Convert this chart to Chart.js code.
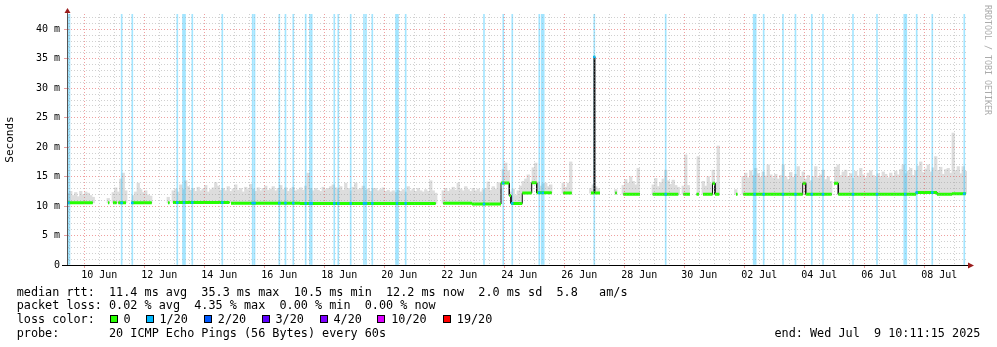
<!DOCTYPE html>
<html>
<head>
<meta charset="utf-8">
<script src="https://cdn.jsdelivr.net/npm/chart.js@4.4.1/dist/chart.umd.min.js"></script>
<style>
  html, body { margin: 0; padding: 0; background: #fff; }
  #wrap { position: relative; width: 997px; height: 347px; overflow: hidden; }
  #graph { position: absolute; left: 0; top: 0; }
  .leg { position: absolute; font: 11.8px "DejaVu Sans Mono", monospace; line-height: 14px; color: #000; white-space: pre; }
  .box { position: absolute; top: 315px; width: 8px; height: 8px; box-sizing: border-box; border: 1px solid #000; }
</style>
</head>
<body>
<div id="wrap">
  <canvas id="graph" width="997" height="347"></canvas>

  <div class="leg" style="left:16.7px;top:284.6px">median rtt:  11.4 ms avg  35.3 ms max  10.5 ms min  12.2 ms now  2.0 ms sd  5.8   am/s</div>
  <div class="leg" style="left:16.7px;top:298.4px">packet loss: 0.02 % avg  4.35 % max  0.00 % min  0.00 % now</div>
  <div class="leg" style="left:16.7px;top:312.2px">loss color:</div>
  <div id="lossKey"></div>
  <div class="leg" style="left:16.7px;top:326px">probe:       20 ICMP Echo Pings (56 Bytes) every 60s</div>
  <div class="leg" style="left:774.5px;top:326px">end: Wed Jul  9 10:11:15 2025</div>
</div>

<script>
// time axis is "day of June" (Jul 1 = 31); 30 days ending Wed Jul 9 10:11:15
const T_END = 39 + (10 + 11.25 / 60) / 24;
const T_START = T_END - 30;
const SLOT = 2 / 24;          // smoke is sampled in 2 h slots
const Y_MAX = 42.6;           // ms

const xTickLabels = ['10 Jun', '12 Jun', '14 Jun', '16 Jun', '18 Jun', '20 Jun', '22 Jun', '24 Jun',
  '26 Jun', '28 Jun', '30 Jun', '02 Jul', '04 Jul', '06 Jul', '08 Jul'];
const yTickLabels = ['0', '5 m', '10 m', '15 m', '20 m', '25 m', '30 m', '35 m', '40 m'];

const lossNames = ['0', '1/20', '2/20', '3/20', '4/20', '10/20', '19/20'];
const lossColors = ['#26ff00', '#00b8ff', '#0059ff', '#5e00ff', '#7e00ff', '#dd00ff', '#ff0000'];

// median rtt: [from, to, ms]
const medianSegs = [
  [9.425, 10.281, 10.55], [10.791, 10.834, 10.55], [10.958, 11.081, 10.55], [11.134, 11.391, 10.55],
  [11.581, 12.248, 10.55], [12.791, 12.841, 10.55], [12.958, 14.841, 10.6], [14.891, 17.191, 10.5],
  [17.191, 21.714, 10.45], [21.968, 22.924, 10.47], [22.924, 23.891, 10.35], [23.891, 24.168, 13.9],
  [24.168, 24.224, 11.8], [24.224, 24.601, 10.45], [24.601, 24.914, 12.2], [24.914, 25.081, 13.95],
  [25.081, 25.581, 12.25], [25.968, 26.248, 12.2], [26.891, 26.991, 12.2], [26.991, 27.014, 35.3],
  [27.014, 27.191, 12.2], [27.701, 27.748, 12.2], [27.968, 28.524, 12.0], [28.948, 29.801, 12.0],
  [29.968, 30.191, 12.0], [30.408, 30.491, 12.0], [30.624, 30.941, 12.0], [30.941, 31.024, 13.87],
  [31.024, 31.168, 12.0], [31.724, 31.774, 12.0], [31.968, 33.948, 12.0], [33.948, 34.048, 13.87],
  [34.048, 34.914, 12.0], [34.991, 35.134, 13.87], [35.134, 37.724, 12.0], [37.724, 38.424, 12.3],
  [38.424, 38.924, 12.0], [38.924, 39.391, 12.1]
];

// top of the ping smoke (ms), per 2 h slot counted from the start of the graph
const smokeSegs = [
  [0, [12.2, 12.5, 11.8, 12.3, 11.6, 12.5, 11.9, 12.4, 12.2, 11.8, 11.5]],
  [16, [11.3]],
  [18, [12.3, 13.1, 12.4, 14.6, 15.6, 12.6]],
  [26, [11.8, 12.4, 13.9, 12.8, 12.3, 12.6, 11.9, 11.7]],
  [40, [11.5]],
  [42, [12.6, 12.9, 12.4, 13.6, 12.8, 14.3, 13.3, 12.7, 13.0, 12.5,
        13.2, 12.6, 12.9, 13.5, 12.4, 12.8, 13.1, 14.0, 13.4, 12.7,
        13.0, 12.6, 13.3, 12.5, 12.9, 13.6, 12.7, 13.0, 12.4, 13.2,
        12.8, 13.7, 12.9, 12.5, 13.1, 12.6, 13.0, 13.4, 12.7, 12.9,
        13.3, 12.6, 13.0, 13.5, 12.8, 13.1, 12.5, 12.9, 13.2, 12.6,
        12.8, 13.1, 12.7, 13.4, 15.6, 13.0, 12.6, 13.0, 12.7, 12.5,
        13.2, 12.8, 13.0, 13.3, 13.6, 13.1, 12.9, 13.3, 12.7, 13.9,
        13.0, 12.6, 13.2, 13.9, 12.8, 13.0, 13.4, 12.7, 12.9, 12.5,
        13.0, 13.0, 12.6, 12.8, 13.1, 12.5, 12.7, 12.4, 12.6, 12.3,
        12.7, 12.5, 12.8, 12.4, 13.3, 12.6, 12.9, 12.5, 13.0, 12.6,
        12.4, 12.8, 12.5, 14.3, 12.6, 12.2]],
  [150, [12.6, 13.0, 12.5, 12.8, 13.2, 12.7, 13.9, 12.9, 12.6, 13.3,
         12.8, 12.5, 13.0, 12.6, 12.9, 12.4, 12.8, 13.0, 14.1, 12.7,
         13.3, 12.9, 14.0, 13.0, 16.2, 17.3, 16.0, 12.4, 12.9, 11.8,
         12.6, 13.4, 14.2, 14.6, 15.3, 14.0, 16.5, 17.3, 14.1, 13.4,
         13.8, 13.9, 13.3, 13.6]],
  [198, [13.9, 13.2, 13.9, 17.5]],
  [209, [13.0, 13.6, 13.3, 13.0]],
  [219, [12.8]],
  [222, [13.5, 14.5, 13.9, 15.0, 14.2, 13.6, 16.4]],
  [234, [13.6, 14.7, 13.3, 14.0, 14.6, 16.1, 14.3, 13.7, 14.4, 13.5, 13.2]],
  [246, [13.4, 18.7, 13.5]],
  [252, [18.4]],
  [254, [14.2, 13.4, 15.0, 13.8, 16.1, 14.0, 20.2]],
  [267, [12.8]],
  [270, [15.0, 15.6, 14.8, 16.0, 15.2, 16.4, 15.5, 14.9, 15.8, 15.1,
         17.0, 15.3, 14.8, 15.4, 14.6, 15.2, 17.0, 15.0, 14.5, 15.7,
         14.9, 15.4, 16.7, 15.0, 15.8, 14.6, 15.2, 14.3, 15.0, 16.7,
         14.8, 15.3, 16.1, 14.5, 15.0, 14.2]],
  [307, [16.6, 17.0, 15.2, 15.8, 16.1, 15.0, 15.5, 14.7, 15.9, 15.1,
         16.4, 15.3, 14.8, 15.6, 16.0, 15.2, 14.9, 15.5, 15.0, 15.8,
         15.4, 14.8, 15.6, 15.1, 15.9, 15.3, 16.2, 17.0, 15.5, 15.9,
         16.4, 15.2, 16.0, 16.8, 17.5, 15.7, 16.3, 17.0, 15.8, 16.5,
         18.4, 16.0, 16.6, 15.4, 16.2, 16.4, 15.6, 22.4, 16.0, 16.7,
         15.5, 16.7, 15.9]]
];

// times with packet loss: single samples and longer stretches
const lossShort = [11.247, 11.601, 13.101, 13.601, 14.601, 15.614, 15.674, 16.501, 16.707, 16.967,
  17.381, 17.524, 17.581, 18.334, 18.467, 18.881, 19.324, 19.391, 19.601, 20.714, 23.324, 23.967,
  24.267, 25.167, 27.001, 29.381, 32.647, 33.291, 33.707, 34.251, 34.624, 35.624, 36.424, 37.747,
  38.267, 39.334];
const lossLong = [9.474, 13.324, 20.424, 25.281, 32.347, 37.367];

const MONO = '"DejaVu Sans Mono", monospace';
const MAJOR = 'rgba(225, 80, 80, 0.55)';
const MINOR = 'rgba(150, 150, 150, 0.45)';
const LOSS_BG = 'rgba(0, 184, 255, 0.36)';

function medianAt(t, tol) {
  for (const [a, b, v] of medianSegs) if (t >= a && t <= b) return v;
  for (const [a, b, v] of medianSegs) if (t >= a - tol && t <= b + tol) return v;
  return null;
}

// legend boxes for loss colours
const keyLeft = [109.5, 145.5, 203.8, 261.5, 319.5, 377.2, 442.8];
const lossKey = document.getElementById('lossKey');
lossNames.forEach((n, i) => {
  const b = document.createElement('div');
  b.className = 'box';
  b.style.left = keyLeft[i] + 'px';
  b.style.background = lossColors[i];
  lossKey.appendChild(b);
  const t = document.createElement('div');
  t.className = 'leg';
  t.style.left = (keyLeft[i] + 14) + 'px';
  t.style.top = '312.2px';
  t.textContent = n;
  lossKey.appendChild(t);
});

// datasets
const smoke = [];
smokeSegs.forEach(([slot, tops]) => {
  tops.forEach((top, k) => {
    const t = T_START + (slot + k + 0.5) * SLOT;
    const m = medianAt(t, 0.05);
    if (m !== null && top > m) smoke.push({ x: t, y: [m, top] });
  });
});

const medianDark = [];
const medianGreen = [];
medianSegs.forEach(([a, b, v], i) => {
  if (i > 0 && a - medianSegs[i - 1][1] > 0.001) medianDark.push({ x: a, y: null });
  medianDark.push({ x: a, y: v }, { x: b, y: v });
  medianGreen.push({ x: a, y: v }, { x: b, y: v }, { x: b, y: null });
});

const lossMarks = lossShort.concat(lossLong)
  .map(t => ({ x: t, y: medianAt(t, 0) }))
  .filter(p => p.y !== null);

const gridTimes = [];
for (let v = Math.ceil(T_START * 2) / 2; v <= T_END; v += 0.5) gridTimes.push(v);
const isMajorDay = v => Math.abs(v / 2 - Math.round(v / 2)) < 1e-9;

const axisDecor = {
  id: 'axisDecor',
  afterDraw(chart) {
    const { ctx, chartArea: a } = chart;
    const yb = Math.round(a.bottom) + 0.5;
    const xl = Math.round(a.left) + 0.5;
    ctx.save();
    ctx.lineWidth = 1;
    ctx.strokeStyle = '#000';
    ctx.beginPath();
    ctx.moveTo(a.left - 5, yb);
    ctx.lineTo(a.right + 2, yb);
    ctx.stroke();
    ctx.strokeStyle = '#555';
    ctx.beginPath();
    ctx.moveTo(xl, a.top);
    ctx.lineTo(xl, a.top - 2);
    ctx.stroke();
    ctx.fillStyle = '#9a1d1d';
    ctx.beginPath();
    ctx.moveTo(a.right + 1, yb - 3);
    ctx.lineTo(a.right + 7, yb);
    ctx.lineTo(a.right + 1, yb + 3);
    ctx.closePath();
    ctx.fill();
    ctx.beginPath();
    ctx.moveTo(xl - 3, a.top - 1);
    ctx.lineTo(xl, a.top - 6);
    ctx.lineTo(xl + 3, a.top - 1);
    ctx.closePath();
    ctx.fill();
    // watermark
    ctx.translate(987, 5);
    ctx.rotate(Math.PI / 2);
    ctx.font = '8.3px ' + MONO;
    ctx.fillStyle = '#ababab';
    ctx.textBaseline = 'middle';
    ctx.textAlign = 'left';
    ctx.fillText('RRDTOOL / TOBI OETIKER', 0, 0);
    ctx.restore();
  }
};

new Chart(document.getElementById('graph'), {
  type: 'bar',
  data: {
    datasets: [
      { label: 'loss', data: lossShort.map(t => ({ x: t, y: [0, Y_MAX] })), backgroundColor: LOSS_BG,
        barThickness: 1, grouped: false, order: 5 },
      { label: 'loss+', data: lossLong.map(t => ({ x: t, y: [0, Y_MAX] })), backgroundColor: LOSS_BG,
        barThickness: 3, grouped: false, order: 5 },
      { label: 'smoke', data: smoke, backgroundColor: '#dddddd', barThickness: 2.6, grouped: false, order: 6 },
      { type: 'line', label: 'median', data: medianDark, borderColor: '#111', borderWidth: 1,
        pointRadius: 0, tension: 0, order: 3 },
      { type: 'line', label: 'median loss 0', data: medianGreen, borderColor: lossColors[0], borderWidth: 3,
        borderCapStyle: 'butt', pointRadius: 0, tension: 0, order: 2 },
      { type: 'line', label: 'median loss 1/20', data: lossMarks, showLine: false, pointStyle: 'rect',
        pointRadius: 1.8, pointBorderWidth: 0, pointBackgroundColor: lossColors[1], order: 1 }
    ]
  },
  options: {
    responsive: false,
    maintainAspectRatio: false,
    devicePixelRatio: 1,
    animation: false,
    events: [],
    layout: { padding: { left: 0, right: 30, top: 14, bottom: 62 } },
    plugins: { legend: { display: false }, tooltip: { enabled: false } },
    scales: {
      x: {
        type: 'linear',
        min: T_START,
        max: T_END,
        offset: false,
        afterBuildTicks: s => { s.ticks = gridTimes.map(v => ({ value: v })); },
        afterFit: s => { s.height = 20; },
        ticks: {
          autoSkip: false, maxRotation: 0, minRotation: 0, padding: 1, color: '#000',
          font: { family: MONO, size: 10 },
          callback: v => {
            const k = (v - 10.5) / 2;
            return Number.isInteger(k) && xTickLabels[k] ? xTickLabels[k] : '';
          }
        },
        grid: {
          offset: false, z: 1, lineWidth: 1, tickLength: 3,
          color: c => isMajorDay(c.tick.value) ? MAJOR : MINOR,
          tickColor: c => isMajorDay(c.tick.value) ? MAJOR : 'transparent'
        },
        border: { color: '#000', width: 1, dash: [1, 2], z: 2 }
      },
      y: {
        min: 0,
        max: Y_MAX,
        afterBuildTicks: s => {
          const t = [];
          for (let v = 0; v <= 42; v++) t.push({ value: v });
          s.ticks = t;
        },
        afterFit: s => { s.width = 67; },
        ticks: {
          autoSkip: false, padding: 4, color: '#000', font: { family: MONO, size: 10 },
          callback: v => (v % 5 === 0 ? yTickLabels[v / 5] : '')
        },
        grid: {
          z: 1, lineWidth: 1, tickLength: 3,
          color: c => c.tick.value === 0 ? 'transparent' : (c.tick.value % 5 === 0 ? MAJOR : MINOR),
          tickColor: c => c.tick.value % 5 === 0 ? MAJOR : 'transparent'
        },
        border: { color: '#555', width: 1, dash: [1, 2], z: 2 },
        title: {
          display: true, text: 'Seconds', color: '#000',
          font: { family: MONO, size: 11 }, padding: { top: 4, bottom: 0 }
        }
      }
    }
  },
  plugins: [axisDecor]
});
</script>
</body>
</html>
